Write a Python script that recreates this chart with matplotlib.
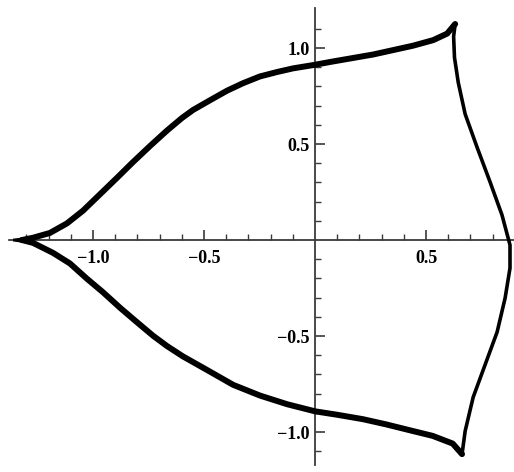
import numpy as np
import matplotlib
matplotlib.use("Agg")
import matplotlib.pyplot as plt

# closed curve, three arcs between the cusps
upper_x = [-1.32, -1.27, -1.194, -1.117, -1.045, -0.968, -0.892, -0.82, -0.743, -0.667,
           -0.6, -0.55, -0.473, -0.396, -0.324, -0.248, -0.171, -0.099, -0.009,
           0.081, 0.171, 0.261, 0.351, 0.441, 0.532, 0.595, 0.631]
upper_y = [0.0, 0.012, 0.037, 0.087, 0.153, 0.239, 0.324, 0.406, 0.49, 0.57,
           0.635, 0.677, 0.728, 0.778, 0.817, 0.852, 0.875, 0.894, 0.911,
           0.93, 0.948, 0.966, 0.989, 1.012, 1.041, 1.075, 1.125]

right_x = [0.631, 0.624, 0.628, 0.645, 0.676, 0.73, 0.788, 0.842, 0.878,
           0.878, 0.856, 0.82, 0.766, 0.712, 0.676, 0.662]
right_y = [1.125, 1.06, 0.95, 0.82, 0.656, 0.482, 0.303, 0.13, -0.026,
           -0.146, -0.302, -0.479, -0.649, -0.819, -0.995, -1.115]

lower_x = [0.662, 0.62, 0.53, 0.414, 0.32, 0.216, 0.1, 0.0, -0.126, -0.248, -0.369,
           -0.486, -0.595, -0.667, -0.73, -0.802, -0.878, -0.955, -1.027, -1.104,
           -1.18, -1.27, -1.32]
lower_y = [-1.115, -1.06, -1.02, -0.987, -0.96, -0.933, -0.91, -0.892, -0.855, -0.81, -0.754,
           -0.677, -0.606, -0.552, -0.498, -0.428, -0.353, -0.272, -0.202, -0.122,
           -0.067, -0.015, 0.0]

x_major = [-1.0, -0.5, 0.5]
x_labels = ["\u22121.0", "\u22120.5", "0.5"]
y_major = [-1.0, -0.5, 0.5, 1.0]
y_labels = ["\u22121.0", "\u22120.5", "0.5", "1.0"]

plt.rcParams["font.family"] = ["Liberation Serif", "DejaVu Serif"]

fig = plt.figure(figsize=(5.14, 4.72), dpi=100)
ax = fig.add_axes([0, 0, 1, 1])
ax.set_xlim(-1.419, 0.896)
ax.set_ylim(-1.208, 1.25)

# the side arcs are drawn heavier than the right-hand arc
line_kw = dict(color="black", solid_joinstyle="round", solid_capstyle="round", zorder=3)
ax.plot(upper_x, upper_y, lw=4.3, **line_kw)
ax.plot(lower_x, lower_y, lw=4.3, **line_kw)
ax.plot(right_x, right_y, lw=2.6, **line_kw)
# pointed tip at the left cusp
ax.plot([upper_x[1], upper_x[0] - 0.04, lower_x[-2]], [upper_y[1], 0.0, lower_y[-2]],
        color="black", lw=2.0, solid_joinstyle="miter", zorder=3)

# axes through the origin, Mathematica style
for side in ("top", "right"):
    ax.spines[side].set_visible(False)
ax.spines["left"].set_position(("data", 0))
ax.spines["bottom"].set_position(("data", 0))
ax.spines["left"].set_bounds(-1.17, 1.21)
ax.spines["bottom"].set_bounds(-1.38, 0.896)
for side in ("left", "bottom"):
    ax.spines[side].set_color("#3a3a3a")
    ax.spines[side].set_linewidth(1.3)

ax.set_xticks(x_major)
ax.set_xticklabels(x_labels)
ax.set_yticks(y_major)
ax.set_yticklabels(y_labels)
ax.set_xticks([v for v in np.round(np.arange(-1.3, 0.85, 0.1), 2) if v not in x_major and v != 0], minor=True)
ax.set_yticks([v for v in np.round(np.arange(-1.1, 1.15, 0.1), 2) if v not in y_major and v != 0], minor=True)

ax.tick_params(which="both", direction="in", color="#3a3a3a", labelsize=13)
ax.tick_params(which="major", length=7, width=1.2)
ax.tick_params(which="minor", length=4, width=1.0)
ax.tick_params(axis="x", pad=7)
ax.tick_params(axis="y", pad=4)
for lab in ax.get_xticklabels() + ax.get_yticklabels():
    lab.set_fontweight("bold")

fig.savefig("out.png", dpi=100, facecolor="white")
